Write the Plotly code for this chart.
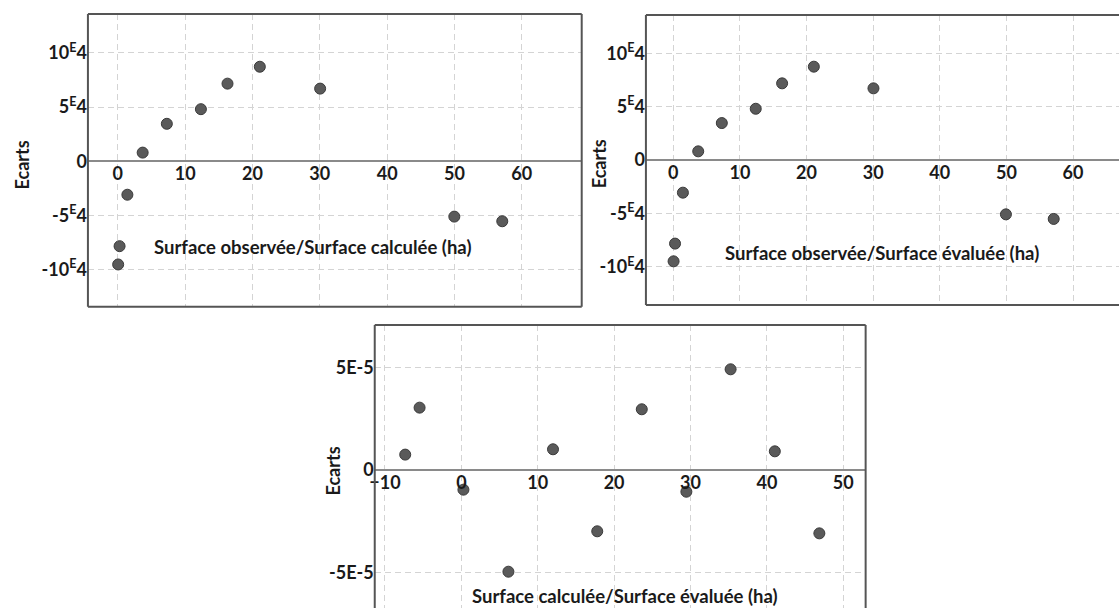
import plotly.graph_objects as go

# ---------------- data ----------------
# Panel 1: Surface observée / Surface calculée
x_obs_calc = [0.05, 0.26, 1.42, 3.69, 7.28, 12.34, 16.29, 21.09, 30.05, 49.98, 57.1]
y_obs_calc = [-9.53e4, -7.84e4, -3.09e4, 0.80e4, 3.46e4, 4.81e4, 7.17e4, 8.73e4, 6.71e4, -5.11e4, -5.54e4]

# Panel 2: Surface observée / Surface évaluée
x_obs_eval = [0.05, 0.27, 1.45, 3.75, 7.29, 12.38, 16.34, 21.1, 30.05, 49.93, 57.1]
y_obs_eval = [-9.49e4, -7.83e4, -3.06e4, 0.81e4, 3.46e4, 4.80e4, 7.18e4, 8.74e4, 6.71e4, -5.09e4, -5.52e4]

# Panel 3: Surface calculée / Surface évaluée
x_calc_eval = [-7.35, -5.47, 0.27, 6.16, 12.0, 17.79, 23.62, 29.46, 35.25, 41.04, 46.87]
y_calc_eval = [0.75e-5, 3.04e-5, -0.96e-5, -4.96e-5, 1.01e-5, -2.99e-5, 2.96e-5, -1.06e-5, 4.91e-5, 0.91e-5, -3.09e-5]

# tick labels
x_ticks_top = [0, 10, 20, 30, 40, 50, 60]
y_ticks_top = [-10e4, -5e4, 0, 5e4, 10e4]
y_ticktext_top = ["-10<sup>E</sup>4", "-5<sup>E</sup>4", "0", "5<sup>E</sup>4", "10<sup>E</sup>4"]
x_ticks_bot = [-10, 0, 10, 20, 30, 40, 50]
y_ticks_bot = [-5e-5, 0, 5e-5]
y_ticktext_bot = ["-5E-5", "0", "5E-5"]

title_1 = "Surface observée/Surface calculée (ha)"
title_2 = "Surface observée/Surface évaluée (ha)"
title_3 = "Surface calculée/Surface évaluée (ha)"
y_title = "Ecarts"

# ---------------- layout geometry ----------------
W, H = 1119, 608
def px_x(p):
    return p / W
def px_y(p):
    return 1 - p / H

dom = {
    1: dict(x=[px_x(83.3), px_x(579.3)], y=[px_y(306.7), px_y(14)],
            xr=[-4.44, 68.9], yr=[-13.43e4, 13.6e4]),
    2: dict(x=[px_x(643.8), 1.0], y=[px_y(305), px_y(15)],
            xr=[-4.1, 66.9], yr=[-13.58e4, 13.58e4]),
    3: dict(x=[px_x(371.4), px_x(864.5)], y=[0.0, px_y(325)],
            xr=[-11.34, 52.93], yr=[-6.73e-5, 7.07e-5]),
}

FONT = "Lato"
TXT = "#1a1a1a"
GRID = "#d4d4d4"
MARK = "#5a5a5a"
MARK_LINE = "#3a3a3a"
BORDER = "#555555"

fig = go.Figure()
data = {1: (x_obs_calc, y_obs_calc), 2: (x_obs_eval, y_obs_eval), 3: (x_calc_eval, y_calc_eval)}
for i in (1, 2, 3):
    xs, ys = data[i]
    fig.add_trace(go.Scatter(
        x=xs, y=ys, mode="markers",
        xaxis="x" if i == 1 else f"x{i}", yaxis="y" if i == 1 else f"y{i}",
        marker=dict(size=11, color=MARK, line=dict(color=MARK_LINE, width=1)),
        showlegend=False, hoverinfo="skip"))

layout = dict(width=W, height=H, margin=dict(l=0, r=0, t=0, b=0),
              paper_bgcolor="white", plot_bgcolor="white",
              font=dict(family=FONT, color=TXT), showlegend=False)

TICKFONT = dict(family=FONT, size=18, color=TXT, weight="bold")
for i in (1, 2, 3):
    d = dom[i]
    xr, yr = d["xr"], d["yr"]
    # paper position of y = 0 so the x tick labels sit just below the zero line
    zero_pos = d["y"][0] + (0 - yr[0]) / (yr[1] - yr[0]) * (d["y"][1] - d["y"][0])
    xk = "xaxis" if i == 1 else f"xaxis{i}"
    yk = "yaxis" if i == 1 else f"yaxis{i}"
    xa = "x" if i == 1 else f"x{i}"
    top = i in (1, 2)
    layout[xk] = dict(domain=d["x"], range=xr, anchor="free", position=zero_pos,
                      tickvals=x_ticks_top if top else x_ticks_bot,
                      showgrid=True, gridcolor=GRID, gridwidth=1.3, griddash="6px,4px",
                      zeroline=False, showline=False, ticks="",
                      tickfont=TICKFONT, fixedrange=True)
    layout[yk] = dict(domain=d["y"], range=yr, anchor=xa,
                      tickvals=y_ticks_top if top else y_ticks_bot,
                      ticktext=y_ticktext_top if top else y_ticktext_bot,
                      showgrid=True, gridcolor=GRID, gridwidth=1.3, griddash="6px,4px",
                      zeroline=True, zerolinecolor="#8a8a8a", zerolinewidth=2,
                      showline=False, ticks="",
                      tickfont=TICKFONT, fixedrange=True)

fig.update_layout(**layout)

# borders
shapes = []
def line(x0, y0, x1, y1):
    shapes.append(dict(type="line", xref="paper", yref="paper", x0=x0, y0=y0, x1=x1, y1=y1,
                       line=dict(color=BORDER, width=2), layer="above"))
d = dom[1]
line(d["x"][0], d["y"][0], d["x"][1], d["y"][0]); line(d["x"][0], d["y"][1], d["x"][1], d["y"][1])
line(d["x"][0], d["y"][0], d["x"][0], d["y"][1]); line(d["x"][1], d["y"][0], d["x"][1], d["y"][1])
d = dom[2]
line(d["x"][0], d["y"][0], d["x"][1], d["y"][0]); line(d["x"][0], d["y"][1], d["x"][1], d["y"][1])
line(d["x"][0], d["y"][0], d["x"][0], d["y"][1])
d = dom[3]
line(d["x"][0], d["y"][1], d["x"][1], d["y"][1])
line(d["x"][0], d["y"][0], d["x"][0], d["y"][1]); line(d["x"][1], d["y"][0], d["x"][1], d["y"][1])
fig.update_layout(shapes=shapes)

# titles
ann = []
for (txt, cx, cy) in [(title_1, 309.5, 246.7), (title_2, 881, 253), (title_3, 623, 596)]:
    ann.append(dict(text=txt, x=px_x(cx), y=px_y(cy), xref="paper", yref="paper",
                    xanchor="center", yanchor="middle", showarrow=False,
                    font=dict(family=FONT, size=18.5, color=TXT, weight="bold")))
for (cx, cy) in [(17.5, 165), (597, 164), (329, 471)]:
    ann.append(dict(text=y_title, x=px_x(cx), y=px_y(cy), xref="paper", yref="paper",
                    xanchor="center", yanchor="middle", showarrow=False, textangle=-90,
                    font=dict(family=FONT, size=18, color=TXT, weight="bold")))
fig.update_layout(annotations=ann)

fig.write_html("out.html")
